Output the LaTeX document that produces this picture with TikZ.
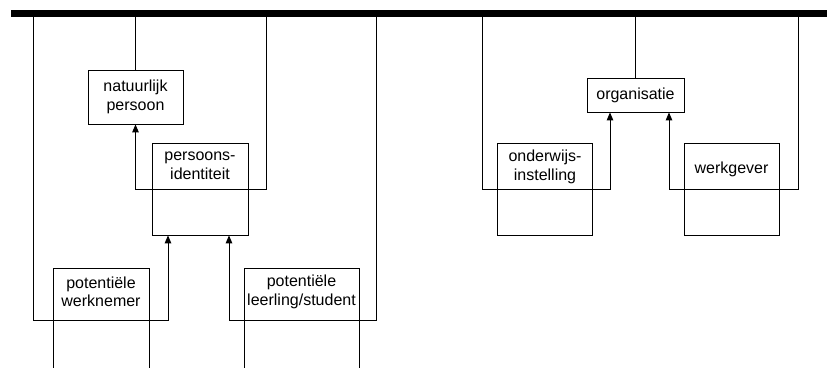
\documentclass[tikz,border=0pt]{standalone}
\usepackage{fontspec}
\setmainfont{Liberation Sans}
\usetikzlibrary{arrows.meta}
\begin{document}
\begin{tikzpicture}[x=1bp,y=-1bp,
  every node/.style={font=\fontsize{16bp}{18.5bp}\selectfont},
  box/.style={draw, line width=0.8bp, inner sep=0pt, minimum width=#1},
  lbl/.style={align=center, inner sep=0pt},
  wire/.style={line width=1bp},
  arr/.style={line width=1bp, -{Triangle[length=8bp,width=6.5bp]}}]
\clip (0,0) rectangle (827,367);
\useasboundingbox (0,0) rectangle (827,367);

% bus
\node[fill=black, inner sep=0pt, minimum width=820bp, minimum height=7bp] (bar) at (421,13.5) {};

% person side
\node[box=95bp, minimum height=54bp, lbl, draw] (nat) at (135.5,97) {natuurlijk\\persoon};
\node[box=96bp, minimum height=92bp] (pid) at (200,189) {};
\node[lbl] (pidt) at (200,166) {persoons-\\identiteit};
\node[box=96bp, minimum height=132bp] (pw) at (101,334) {};
\node[lbl] (pwt) at (101,292) {potentiële\\werknemer};
\node[box=115bp, minimum height=132bp] (pl) at (301.5,334) {};
\node[lbl] (plt) at (301.5,292) {potentiële\\leerling/student};

% organisation side
\node[box=97bp, minimum height=34bp] (org) at (635.5,95) {organisatie};
\node[box=95bp, minimum height=92bp] (ond) at (544.5,189) {};
\node[lbl] (ondt) at (545,167) {onderwijs-\\instelling};
\node[box=95bp, minimum height=92bp] (wg) at (731.5,189) {};
\node[lbl] (wgt) at (731.5,169) {werkgever};

% turning points
\coordinate (k1) at (266.5,189);
\coordinate (k2) at (33,320);
\coordinate (k3) at (168,320);
\coordinate (k4) at (376.5,320);
\coordinate (k5) at (229,320);
\coordinate (k6) at (482,189);
\coordinate (k7) at (610,189);
\coordinate (k8) at (798,189);
\coordinate (k9) at (669,189);

% connectors
\draw[wire] (bar.south -| nat.north) -- (nat.north);
\draw[arr] (bar.south -| k1) -- (k1) -| (nat.south);
\draw[arr] (bar.south -| k2) -- (k2) -- (k3) -- (k3 |- pid.south);
\draw[arr] (bar.south -| k4) -- (k4) -- (k5) -- (k5 |- pid.south);
\draw[wire] (bar.south -| org.north) -- (org.north);
\draw[arr] (bar.south -| k6) -- (k6) -- (k7) -- (k7 |- org.south);
\draw[arr] (bar.south -| k8) -- (k8) -- (k9) -- (k9 |- org.south);
\end{tikzpicture}
\end{document}
